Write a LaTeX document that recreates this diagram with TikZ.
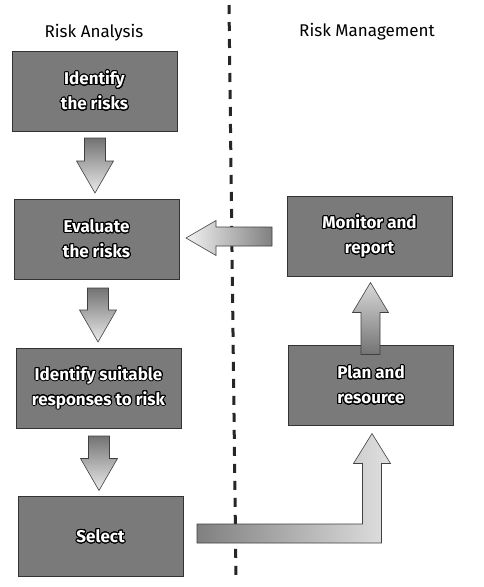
\documentclass[tikz,border=0pt]{standalone}
\usepackage{fontspec}
\setmainfont{Fira Sans}
\usepackage{contour}
\contourlength{1pt}
\contournumber{24}
\usetikzlibrary{calc}

\tikzset{
  stepbox/.style={draw=black!80, line width=0.8pt, fill=black!52,
    minimum width=165pt, minimum height=80pt, inner sep=0pt, outer sep=0pt,
    text=white, align=center, font=\fontsize{17}{25}\selectfont\bfseries},
  heading/.style={font=\fontsize{17}{20}\selectfont, anchor=base},
  fatline/.style={draw=black!75, line width=0.6pt},
  divider/.style={line width=3pt, dash pattern=on 9pt off 8pt, black!85}
}

% broad block arrow pointing down, from #1 (tail) to #2 (tip)
\newcommand\fatdown[2]{%
  \path[fatline, top color=black!55, bottom color=black!8]
    let \p1=(#1), \p2=(#2) in
    (\x1-10.5pt,\y1) -- (\x1+10.5pt,\y1) -- (\x1+10.5pt,\y2+32pt)
    -- (\x1+18.5pt,\y2+32pt) -- (\x1,\y2) -- (\x1-18.5pt,\y2+32pt)
    -- (\x1-10.5pt,\y2+32pt) -- cycle;}

\begin{document}
\begin{tikzpicture}[x=1pt,y=-1pt]
\useasboundingbox (0,0) rectangle (484,587);
\fill[white] (0,0) rectangle (484,587);

% column divider
\coordinate (dtop) at (229,5);
\coordinate (dbot) at (236,578);
\draw[divider] (dtop) -- (dbot);

% headings
\node[heading] (ha) at (94,37) {Risk Analysis};
\node[heading] (hm) at (367,36) {Risk Management};

% process boxes
\node[stepbox] (ir) at (94.5,91) {\contour{black}{Identify}\\\contour{black}{the risks}};
\node[stepbox] (ev) at (96.5,239) {\contour{black}{Evaluate}\\\contour{black}{the risks}};
\node[stepbox] (is) at (98.5,388) {\contour{black}{Identify suitable}\\\contour{black}{responses to risk}};
\node[stepbox] (se) at (100.5,536.5) {\contour{black}{Select}};
\node[stepbox] (mo) at (369.5,236.5) {\contour{black}{Monitor and}\\\contour{black}{report}};
\node[stepbox] (pl) at (371,385.5) {\contour{black}{Plan and}\\\contour{black}{resource}};

% downward arrows of the analysis column
\fatdown{$(ir.south)+(0.5,7)$}{$(ev.north)+(-1.5,-6)$}
\fatdown{$(ev.south)+(1.5,9)$}{$(is.north)+(0,-6)$}
\fatdown{$(is.south)+(0.5,8)$}{$(se.north)+(-1.5,-6)$}

% feedback arrow: monitor -> evaluate
\path[fatline, left color=black!5, right color=black!50]
  let \p1=($(mo.west)+(-15,0)$), \p2=($(ev.east)+(7,-1)$) in
  (\x1,\y1+9.5pt) -- (\x2+30pt,\y1+9.5pt) -- (\x2+30pt,\y2+17.5pt)
  -- (\x2,\y2) -- (\x2+30pt,\y2-17.5pt) -- (\x2+30pt,\y1-9.5pt)
  -- (\x1,\y1-9.5pt) -- cycle;

% plan -> monitor
\path[fatline, bottom color=black!55, top color=black!15]
  let \p1=($(pl.north)+(-0.5,9)$), \p2=($(mo.south)+(0.5,6)$) in
  (\x1-9.5pt,\y1) -- (\x1+9.5pt,\y1) -- (\x1+9.5pt,\y2-30pt)
  -- (\x1+18pt,\y2-30pt) -- (\x1,\y2) -- (\x1-18pt,\y2-30pt)
  -- (\x1-9.5pt,\y2-30pt) -- cycle;

% select -> plan (elbow arrow)
\path[fatline, left color=black!50, right color=black!12]
  let \p1=($(se.east)+(14,-3)$), \p2=($(pl.south)+(1,8)$) in
  (\x1,\y1+9.5pt) -- (\x2-9.5pt,\y1+9.5pt) -- (\x2-9.5pt,\y2-30pt)
  -- (\x2-18.5pt,\y2-30pt) -- (\x2,\y2) -- (\x2+18.5pt,\y2-30pt)
  -- (\x2+9.5pt,\y2-30pt) -- (\x2+9.5pt,\y1-9.5pt) -- (\x1,\y1-9.5pt) -- cycle;
\end{tikzpicture}
\end{document}
